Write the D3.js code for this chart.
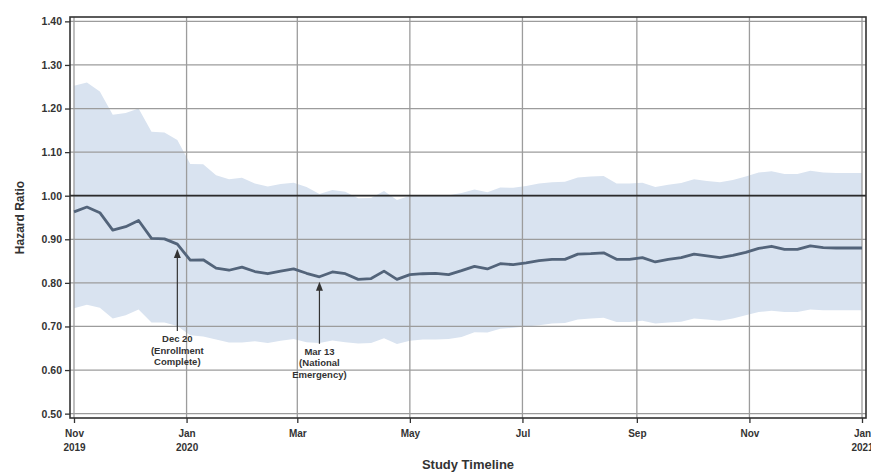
<!DOCTYPE html>
<html>
<head>
<meta charset="utf-8">
<script src="https://cdn.jsdelivr.net/npm/d3@7"></script>
<style>
  html, body { margin: 0; padding: 0; background: #fff; }
  svg { display: block; font-family: "Liberation Sans", Arial, sans-serif; }
</style>
</head>
<body>
<svg id="chart" width="871" height="473"></svg>
<script>
// Weekly hazard ratio estimates with 95% confidence band, first week = Nov 1 2019
const firstWeek = new Date(2019, 10, 1);

const hazardRatio = [
  0.963, 0.974, 0.961, 0.921, 0.929, 0.943, 0.902, 0.901, 0.889, 0.852,
  0.853, 0.834, 0.829, 0.836, 0.826, 0.821, 0.827, 0.832, 0.822, 0.814,
  0.825, 0.821, 0.808, 0.810, 0.827, 0.808, 0.819, 0.821, 0.822, 0.819,
  0.828, 0.838, 0.832, 0.844, 0.842, 0.846, 0.851, 0.854, 0.854, 0.866,
  0.867, 0.869, 0.854, 0.854, 0.858, 0.848, 0.854, 0.858, 0.866, 0.862,
  0.858, 0.863, 0.870, 0.879, 0.884, 0.877, 0.877, 0.885, 0.881, 0.880,
  0.880, 0.880
];

const upperCI = [
  1.252, 1.260, 1.239, 1.186, 1.190, 1.200, 1.147, 1.145, 1.128, 1.073,
  1.072, 1.047, 1.038, 1.041, 1.028, 1.021, 1.027, 1.030, 1.020, 1.004,
  1.013, 1.009, 0.994, 0.995, 1.011, 0.990, 1.000, 1.000, 1.001, 1.001,
  1.006, 1.014, 1.008, 1.019, 1.018, 1.022, 1.028, 1.031, 1.032, 1.042,
  1.044, 1.045, 1.028, 1.028, 1.030, 1.020, 1.025, 1.029, 1.038, 1.034,
  1.031, 1.036, 1.044, 1.053, 1.056, 1.050, 1.050, 1.057, 1.053, 1.052,
  1.052, 1.052
];

const lowerCI = [
  0.742, 0.750, 0.743, 0.718, 0.726, 0.739, 0.709, 0.709, 0.701, 0.680,
  0.677, 0.670, 0.663, 0.663, 0.666, 0.662, 0.667, 0.671, 0.664, 0.662,
  0.668, 0.664, 0.661, 0.662, 0.673, 0.660, 0.667, 0.670, 0.670, 0.671,
  0.676, 0.687, 0.686, 0.695, 0.697, 0.700, 0.703, 0.707, 0.708, 0.716,
  0.718, 0.720, 0.710, 0.710, 0.713, 0.707, 0.709, 0.711, 0.718, 0.716,
  0.713, 0.718, 0.726, 0.733, 0.736, 0.733, 0.733, 0.739, 0.737, 0.737,
  0.737, 0.737
];

const yTicks = [0.5, 0.6, 0.7, 0.8, 0.9, 1.0, 1.1, 1.2, 1.3, 1.4];

const xTickDates = [
  new Date(2019, 10, 1), new Date(2020, 0, 1), new Date(2020, 2, 1),
  new Date(2020, 4, 1), new Date(2020, 6, 1), new Date(2020, 8, 1),
  new Date(2020, 10, 1), new Date(2021, 0, 1)
];
const xTickLabels = [
  ["Nov", "2019"], ["Jan", "2020"], ["Mar"], ["May"],
  ["Jul"], ["Sep"], ["Nov"], ["Jan", "2021"]
];

const annotations = [
  { date: new Date(2019, 11, 27), lines: ["Dec 20", "(Enrollment", "Complete)"] },
  { date: new Date(2020, 2, 13), lines: ["Mar 13", "(National", "Emergency)"] }
];

// ---- layout ----
const frame = { left: 70, right: 866, top: 17, bottom: 418 };
const textColor = "#333";

const rows = hazardRatio.map((v, i) => ({
  date: d3.timeDay.offset(firstWeek, 7 * i),
  hr: v, lo: lowerCI[i], hi: upperCI[i]
}));

const x = d3.scaleTime()
  .domain([xTickDates[0], xTickDates[xTickDates.length - 1]])
  .range([74, 862]);

const y = d3.scaleLinear()
  .domain([0.49, 1.41])
  .range([frame.bottom, frame.top]);

const svg = d3.select("#chart");

// confidence band
svg.append("path")
  .datum(rows)
  .attr("fill", "#d9e3f0")
  .attr("d", d3.area().x(d => x(d.date)).y0(d => y(d.lo)).y1(d => y(d.hi)));

// grid
const grid = svg.append("g").attr("stroke", "#9c9c9c").attr("stroke-width", 1.3);
grid.selectAll("line.h").data(yTicks).join("line")
  .attr("x1", frame.left).attr("x2", frame.right)
  .attr("y1", d => y(d)).attr("y2", d => y(d));
grid.selectAll("line.v").data(xTickDates).join("line")
  .attr("y1", frame.top).attr("y2", frame.bottom)
  .attr("x1", d => x(d)).attr("x2", d => x(d));

// reference line at HR = 1
svg.append("line")
  .attr("x1", frame.left).attr("x2", frame.right)
  .attr("y1", y(1)).attr("y2", y(1))
  .attr("stroke", "#2b2b2b").attr("stroke-width", 1.8);

// hazard ratio line
svg.append("path")
  .datum(rows)
  .attr("fill", "none")
  .attr("stroke", "#53647a")
  .attr("stroke-width", 2.8)
  .attr("stroke-linejoin", "round")
  .attr("d", d3.line().x(d => x(d.date)).y(d => y(d.hr)));

// frame
svg.append("rect")
  .attr("x", frame.left).attr("y", frame.top)
  .attr("width", frame.right - frame.left).attr("height", frame.bottom - frame.top)
  .attr("fill", "none").attr("stroke", "#333").attr("stroke-width", 1.6);

// y axis
const yAxis = d3.axisLeft(y).tickValues(yTicks).tickFormat(d3.format(".2f"))
  .tickSize(5).tickPadding(3);
const yg = svg.append("g").attr("transform", `translate(${frame.left},0)`).call(yAxis);
yg.select(".domain").remove();
yg.selectAll(".tick line").attr("stroke", "#333").attr("stroke-width", 1.3);
yg.selectAll(".tick text").attr("fill", textColor)
  .attr("font-size", 10.5).attr("font-weight", "bold")
  .attr("font-family", "Liberation Sans, Arial, sans-serif");

// x axis
const xAxis = d3.axisBottom(x).tickValues(xTickDates).tickFormat("").tickSize(5);
const xg = svg.append("g").attr("transform", `translate(0,${frame.bottom})`).call(xAxis);
xg.select(".domain").remove();
xg.selectAll(".tick line").attr("stroke", "#333").attr("stroke-width", 1.3);
xg.selectAll(".tick").each(function (d, i) {
  const t = d3.select(this).append("text")
    .attr("fill", textColor).attr("font-size", 10).attr("font-weight", "bold")
    .attr("text-anchor", "middle")
    .attr("font-family", "Liberation Sans, Arial, sans-serif");
  xTickLabels[i].forEach((s, k) => {
    t.append("tspan").attr("x", 0).attr("y", 19 + k * 14).text(s);
  });
});

// axis titles
svg.append("text")
  .attr("transform", `translate(24,${(frame.top + frame.bottom) / 2}) rotate(-90)`)
  .attr("text-anchor", "middle").attr("fill", textColor)
  .attr("font-size", 12).attr("font-weight", "bold")
  .text("Hazard Ratio");

svg.append("text")
  .attr("x", (frame.left + frame.right) / 2).attr("y", 469)
  .attr("text-anchor", "middle").attr("fill", textColor)
  .attr("font-size", 13).attr("font-weight", "bold")
  .text("Study Timeline");

// event annotations
const arrowLength = [82, 62];
const labelGap = [11, 11];
const byDate = new Map(rows.map(r => [+r.date, r.hr]));
annotations.forEach((a, i) => {
  const ax = x(a.date);
  const tip = y(byDate.get(+a.date)) + 5;
  const tail = tip + arrowLength[i];
  svg.append("line")
    .attr("x1", ax).attr("x2", ax).attr("y1", tip + 7).attr("y2", tail)
    .attr("stroke", "#333").attr("stroke-width", 1.2);
  svg.append("path")
    .attr("d", `M${ax},${tip} L${ax - 3.5},${tip + 9} L${ax + 3.5},${tip + 9} Z`)
    .attr("fill", "#333");
  const t = svg.append("text")
    .attr("text-anchor", "middle").attr("fill", textColor)
    .attr("font-size", 9.5).attr("font-weight", "bold");
  a.lines.forEach((s, k) => {
    t.append("tspan").attr("x", ax).attr("y", tail + labelGap[i] + k * 11.7).text(s);
  });
});
</script>
</body>
</html>
